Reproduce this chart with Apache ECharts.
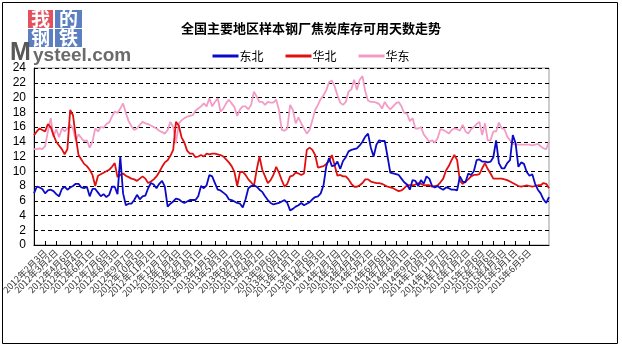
<!DOCTYPE html>
<html>
<head>
<meta charset="utf-8">
<script src="https://cdn.jsdelivr.net/npm/echarts@6/dist/echarts.min.js"></script>
<style>
  html, body { margin: 0; padding: 0; background: #fff; }
  #chart { width: 622px; height: 349px; }
</style>
</head>
<body>
<div id="chart"></div>
<script>
// Weekly sample: coke inventory, usable days, by region (from 2012-01-06)
const startDate = [2012, 1, 6];

const dongbei = [
  7.0, 7.9, 7.8, 7.6, 7.0, 7.4, 7.5, 7.3, 6.9, 6.6,
  7.6, 7.9, 7.5, 7.8, 8.0, 8.3, 8.3, 7.8, 7.7, 7.9,
  6.6, 7.6, 7.6, 7.1, 6.6, 6.9, 6.5, 6.8, 7.9, 7.9,
  6.9, 12.0, 7.0, 5.4, 5.6, 5.6, 6.1, 6.8, 6.2, 6.6,
  6.7, 7.7, 8.4, 8.2, 7.7, 8.3, 8.7, 7.9, 5.2, 5.6,
  5.9, 6.3, 6.2, 5.9, 5.7, 5.9, 6.1, 6.1, 6.1, 6.6,
  8.0, 7.7, 8.1, 9.5, 9.3, 8.4, 7.5, 7.4, 7.1, 6.8,
  6.2, 6.1, 5.9, 5.7, 5.6, 5.1, 6.2, 7.7, 8.0, 8.1,
  7.9, 7.5, 7.2, 6.6, 6.1, 5.7, 5.5, 5.6, 5.7, 5.9,
  6.1, 5.7, 4.7, 4.9, 5.2, 5.4, 5.7, 5.4, 5.6, 5.8,
  6.2, 6.5, 6.6, 7.0, 8.1, 10.7, 11.8, 10.7, 10.8, 11.3,
  10.3, 11.4, 11.9, 12.7, 12.9, 13.0, 13.1, 13.5, 14.0, 14.7,
  15.1, 13.2, 12.0, 13.6, 14.2, 14.1, 14.1, 12.0, 9.8, 9.7,
  9.6, 9.5, 9.0, 8.5, 8.2, 7.5, 8.8, 8.7, 8.0, 8.8,
  8.3, 9.3, 9.0, 8.0, 7.8, 8.0, 7.7, 7.5, 7.8, 7.7,
  7.5, 7.5, 7.4, 9.3, 8.6, 8.5, 9.7, 9.5, 10.0, 11.5,
  11.6, 11.3, 11.3, 11.2, 11.3, 11.9, 14.2, 11.1, 10.4, 10.4,
  11.1, 11.5, 14.9, 13.8, 10.6, 11.2, 11.0, 9.9, 9.4, 9.6,
  8.3, 7.5, 7.0, 6.2, 5.7, 6.5
];

const huabei = [
  14.9, 15.4, 15.8, 15.6, 15.4, 16.4, 16.0, 14.9, 14.0, 13.5,
  13.0, 12.3, 13.0, 18.3, 17.6, 14.7, 12.2, 11.6, 11.0, 10.7,
  10.2, 9.5, 8.0, 9.4, 9.6, 9.8, 10.0, 10.2, 10.6, 11.1,
  9.2, 9.5, 9.7, 9.4, 9.2, 9.0, 8.9, 8.7, 9.0, 9.3,
  9.0, 8.4, 8.6, 8.9, 9.3, 9.9, 10.6, 11.2, 11.5, 12.1,
  12.9, 16.7, 16.2, 14.6, 13.9, 12.8, 12.4, 12.4, 11.9, 12.0,
  12.2, 12.0, 12.4, 12.3, 12.4, 12.4, 12.3, 12.2, 12.0, 11.6,
  11.2, 10.7, 9.9, 8.0, 9.9, 9.9, 9.5, 8.9, 8.5, 8.0,
  10.2, 12.0, 10.2, 9.3, 8.4, 8.8, 9.5, 10.6, 9.8, 8.8,
  7.9, 8.3, 9.3, 9.4, 9.8, 9.7, 9.5, 9.7, 12.9, 13.2,
  12.9, 12.2, 10.5, 10.6, 10.7, 11.0, 11.4, 12.2, 10.8, 9.4,
  9.5, 9.3, 9.3, 8.9, 8.3, 7.9, 7.9, 8.1, 8.4, 8.9,
  8.9, 8.6, 8.5, 8.4, 8.4, 8.3, 8.1, 7.9, 7.8, 7.7,
  7.5, 7.3, 7.4, 7.7, 8.1, 8.1, 8.1, 8.2, 8.4, 8.3,
  8.1, 8.1, 8.1, 7.9, 8.0, 8.1, 8.5, 9.0, 10.1, 10.7,
  11.5, 12.2, 11.5, 8.7, 8.3, 8.6, 8.9, 9.3, 9.5, 9.5,
  9.6, 10.4, 11.1, 10.3, 9.7, 9.0, 9.0, 9.0, 9.0, 8.9,
  8.8, 8.6, 8.4, 8.2, 8.0, 7.9, 8.0, 8.1, 8.0, 7.9,
  8.0, 8.1, 8.1, 8.4, 8.3, 7.7
];

const huadong = [
  13.0, 13.0, 13.1, 13.0, 13.4, 15.4, 17.2, 14.7, 15.7, 14.6,
  15.8, 15.4, 15.8, 16.3, 15.8, 14.2, 15.0, 14.5, 14.1, 14.2,
  13.2, 14.0, 15.8, 15.4, 16.0, 15.9, 16.4, 16.6, 17.4, 18.1,
  17.9, 18.5, 19.2, 17.9, 16.8, 16.1, 15.6, 15.8, 16.3, 16.7,
  16.5, 16.4, 16.2, 16.0, 15.8, 15.5, 15.3, 15.1, 15.6, 16.7,
  16.0, 13.8, 16.5, 16.9, 17.2, 17.4, 17.5, 17.6, 18.2, 18.5,
  18.8, 19.2, 18.8, 19.9, 18.8, 19.4, 19.9, 18.1, 18.5, 19.2,
  19.7, 19.2, 18.7, 17.5, 18.4, 18.8, 18.8, 18.4, 19.0, 20.8,
  20.1, 19.4, 19.4, 19.0, 19.4, 19.3, 19.3, 19.7, 18.3, 15.6,
  15.5, 15.8, 19.0, 18.3, 16.5, 17.3, 16.5, 15.8, 15.1, 15.6,
  16.9, 18.3, 19.0, 19.8, 20.3, 21.0, 22.1, 22.3, 21.5, 20.3,
  19.3, 19.0, 19.4, 20.8, 21.1, 22.4, 21.0, 22.4, 22.9, 20.8,
  19.6, 19.4, 19.4, 19.3, 19.1, 18.5, 19.4, 18.8, 18.4, 18.8,
  19.2, 19.4, 18.8, 17.9, 17.8, 16.8, 17.2, 15.8, 15.8, 16.0,
  15.0, 14.5, 14.0, 14.2, 13.9, 14.5, 15.7, 15.6, 15.4, 15.1,
  15.6, 15.8, 15.7, 15.5, 16.3, 15.4, 15.1, 15.7, 16.0, 16.4,
  16.7, 14.9, 16.5, 14.2, 14.2, 15.4, 15.4, 16.6, 15.8, 15.7,
  14.7, 14.2, 13.7, 13.6, 13.6, 13.6, 13.6, 13.6, 13.6, 13.5,
  13.6, 13.7, 13.4, 13.1, 13.0, 14.0
];

const seriesNames = ['东北', '华北', '华东'];
const seriesColors = ['#0a0ac8', '#e01010', '#f29cc6'];
const titleText = '全国主要地区样本钢厂焦炭库存可用天数走势';
const yTicks = { min: 0, max: 24, interval: 2 };

// weekly date categories, one per data point
const dates = [];
const d0 = new Date(startDate[0], startDate[1] - 1, startDate[2]);
for (let i = 0; i < dongbei.length; i++) {
  const d = new Date(d0.getTime() + i * 7 * 86400000);
  dates.push(d.getFullYear() + '年' + (d.getMonth() + 1) + '月' + d.getDate() + '日');
}
// one label per month: the first week of each month
const firstOfMonth = (idx) => {
  const m = dates[idx].match(/月(\d+)日/);
  return m && Number(m[1]) <= 7;
};

const chart = echarts.init(document.getElementById('chart'));
const cjk = '"Noto Sans CJK SC", sans-serif';

chart.setOption({
  animation: false,
  backgroundColor: '#fff',
  title: {
    text: titleText,
    left: 'center',
    top: 17,
    textStyle: { fontFamily: cjk, fontSize: 13, fontWeight: 'bold', color: '#000' }
  },
  legend: {
    top: 45,
    left: 'center',
    itemWidth: 26,
    itemHeight: 3,
    itemGap: 22,
    icon: 'rect',
    data: seriesNames,
    textStyle: { fontFamily: cjk, fontSize: 12, color: '#000', padding: [0, 0, 0, -4] }
  },
  grid: {
    left: 34, right: 73, top: 68, bottom: 104,
    outerBoundsMode: 'none',
    containLabel: false,
    show: true, borderColor: '#999', borderWidth: 1
  },
  xAxis: {
    type: 'category',
    boundaryGap: false,
    data: dates,
    axisLine: { lineStyle: { color: '#000', width: 1 } },
    axisTick: { inside: true, length: 4, interval: (i) => firstOfMonth(i), lineStyle: { color: '#000' } },
    axisLabel: {
      interval: (i) => firstOfMonth(i),
      rotate: 45,
      fontFamily: cjk,
      fontSize: 9,
      color: '#333',
      margin: 6,
      hideOverlap: false
    },
    splitLine: { show: false }
  },
  yAxis: {
    type: 'value',
    min: yTicks.min, max: yTicks.max, interval: yTicks.interval,
    axisLine: { show: true, lineStyle: { color: '#000' } },
    axisTick: { show: false },
    axisLabel: { fontFamily: '"Liberation Sans", Arial, sans-serif', fontSize: 12, color: '#000', margin: 8 },
    splitLine: { lineStyle: { color: '#000', type: [4, 3], width: 1 } }
  },
  series: seriesNames.map((name, k) => ({
    name,
    type: 'line',
    data: [dongbei, huabei, huadong][k],
    showSymbol: false,
    symbol: 'none',
    lineStyle: { width: 1.8, color: seriesColors[k] },
    itemStyle: { color: seriesColors[k] },
    z: 3 - k
  })),
  graphic: [
    // outer frame
    { type: 'rect', shape: { x: 2.5, y: 2.5, width: 615, height: 341 }, style: { fill: 'none', stroke: '#000', lineWidth: 1 }, silent: true },
    // site logo
    { type: 'rect', shape: { x: 28, y: 10, width: 25, height: 18 }, style: { fill: '#e4505e' } },
    { type: 'rect', shape: { x: 55, y: 10, width: 27, height: 18 }, style: { fill: '#5b7fc1' } },
    { type: 'rect', shape: { x: 28, y: 29, width: 25, height: 18 }, style: { fill: '#5b7fc1' } },
    { type: 'rect', shape: { x: 55, y: 29, width: 27, height: 18 }, style: { fill: '#5b7fc1' } },
    { type: 'text', x: 31, y: 9, style: { text: '我', fill: '#fff', font: 'bold 19px "Noto Sans CJK SC"' } },
    { type: 'text', x: 59, y: 9, style: { text: '的', fill: '#fff', font: 'bold 19px "Noto Sans CJK SC"' } },
    { type: 'text', x: 31, y: 28, style: { text: '钢', fill: '#fff', font: 'bold 19px "Noto Sans CJK SC"' } },
    { type: 'text', x: 59, y: 28, style: { text: '铁', fill: '#fff', font: 'bold 19px "Noto Sans CJK SC"' } },
    { type: 'text', x: 10, y: 41, style: { text: 'M', fill: '#585858', font: 'bold 25px "Liberation Sans"' } },
    { type: 'text', x: 33, y: 46, style: { text: 'ysteel.com', fill: '#6a6a6a', font: 'bold 19px "Liberation Sans"' } }
  ]
});
</script>
</body>
</html>
